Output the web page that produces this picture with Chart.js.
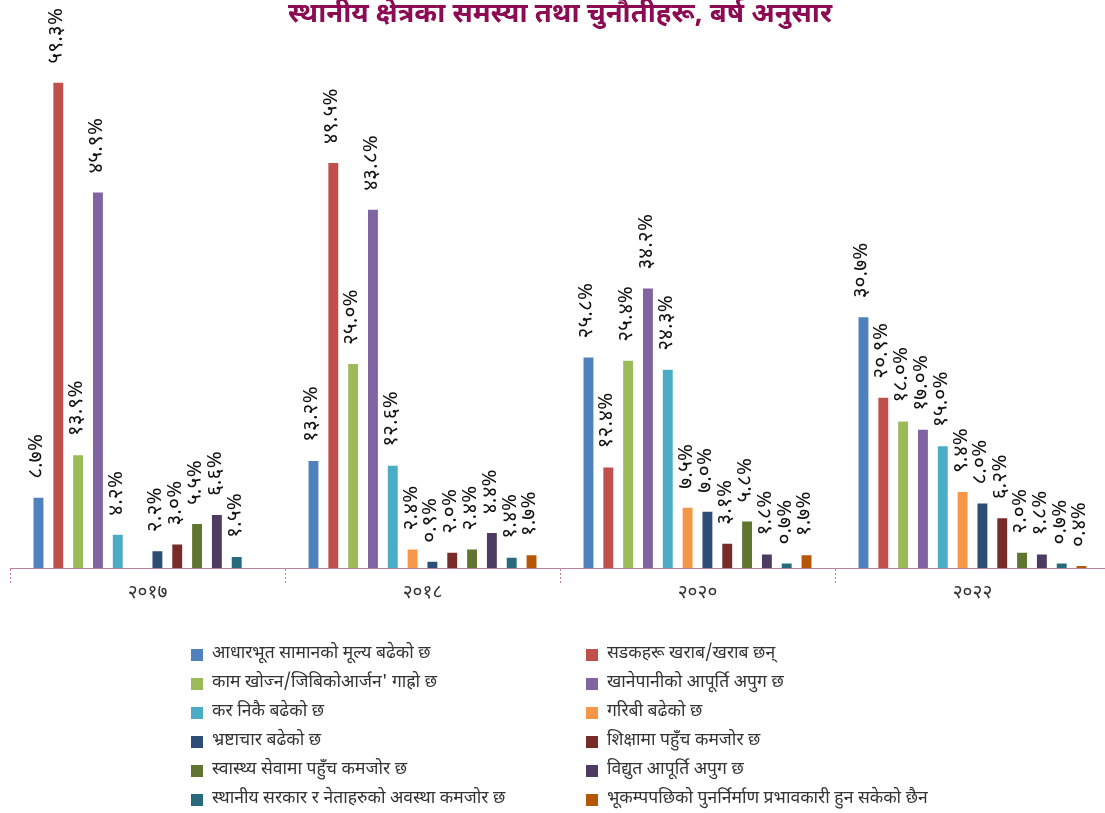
<!DOCTYPE html>
<html>
<head>
<meta charset="utf-8">
<script src="https://cdn.jsdelivr.net/npm/chart.js@4.4.1/dist/chart.umd.min.js"></script>
<style>
  html, body { margin: 0; padding: 0; background: #fff; overflow: hidden; }
  #wrap { width: 1105px; height: 813px; overflow: hidden; position: relative; }
</style>
</head>
<body>
<div id="wrap"><canvas id="myChart" width="1110" height="813"></canvas></div>
<script>
const years = ["२०१७", "२०१८", "२०२०", "२०२२"];

const problems = [
  "आधारभूत सामानको मूल्य बढेको छ",
  "सडकहरू खराब/खराब छन्",
  "काम खोज्न/जिबिकोआर्जन' गाह्रो छ",
  "खानेपानीको आपूर्ति अपुग छ",
  "कर निकै बढेको छ",
  "गरिबी बढेको छ",
  "भ्रष्टाचार बढेको छ",
  "शिक्षामा पहुँच कमजोर छ",
  "स्वास्थ्य सेवामा पहुँच कमजोर छ",
  "विद्युत आपूर्ति अपुग छ",
  "स्थानीय सरकार र नेताहरुको अवस्था कमजोर छ",
  "भूकम्पपछिको पुनर्निर्माण प्रभावकारी हुन सकेको छैन"
];

const colours = [
  "#4F81BD", "#C0504D", "#9BBB59", "#8064A2", "#4BACC6", "#F79646",
  "#2C4D75", "#772C2A", "#5F7530", "#4D3B62", "#276A7C", "#B65708"
];

// values per year: 2017, 2018, 2020, 2022
const basicGoods     = [8.7, 13.2, 25.8, 30.7];
const roads          = [59.3, 49.5, 12.4, 20.9];
const jobs           = [13.9, 25.0, 25.4, 18.0];
const water          = [45.9, 43.8, 34.2, 17.0];
const tax            = [4.2, 12.6, 24.3, 15.0];
const poverty        = [null, 2.4, 7.5, 9.4];
const corruption     = [2.2, 0.9, 7.0, 8.0];
const education      = [3.0, 2.0, 3.1, 6.2];
const health         = [5.5, 2.4, 5.8, 2.0];
const electricity    = [6.6, 4.4, 1.8, 1.8];
const localGov       = [1.5, 1.4, 0.7, 0.7];
const reconstruction = [null, 1.7, 1.7, 0.4];

const series = [basicGoods, roads, jobs, water, tax, poverty, corruption,
  education, health, electricity, localGov, reconstruction];

const devFont = '"Noto Sans Devanagari", "Noto Sans", sans-serif';

function toNepali(s) {
  const d = "०१२३४५६७८९";
  return String(s).replace(/[0-9]/g, c => d[c]);
}

// rotated value labels above each bar
const barLabels = {
  id: "barLabels",
  afterDatasetsDraw(chart) {
    const ctx = chart.ctx;
    ctx.save();
    ctx.font = "21px " + devFont;
    ctx.fillStyle = "#111";
    ctx.textAlign = "left";
    ctx.textBaseline = "middle";
    chart.data.datasets.forEach((ds, i) => {
      chart.getDatasetMeta(i).data.forEach((bar, j) => {
        const v = ds.data[j];
        if (v == null) return;
        ctx.save();
        ctx.translate(bar.x, bar.y - 18);
        ctx.rotate(-Math.PI / 2);
        ctx.fillText(toNepali(v.toFixed(1)) + "%", 0, 0);
        ctx.restore();
      });
    });
    ctx.restore();
  }
};

// two column legend under the axis
const twoColLegend = {
  id: "twoColLegend",
  afterDraw(chart) {
    const ctx = chart.ctx;
    ctx.save();
    ctx.font = "17.5px " + devFont;
    ctx.textBaseline = "middle";
    ctx.textAlign = "left";
    chart.data.datasets.forEach((ds, i) => {
      const col = i % 2;
      const row = Math.floor(i / 2);
      const x = col ? 586 : 191;
      const y = 655 + row * 29;
      ctx.fillStyle = ds.backgroundColor;
      ctx.fillRect(x, y - 6, 12, 12);
      ctx.fillStyle = "#333";
      ctx.fillText(ds.label, x + 21, y);
    });
    ctx.restore();
  }
};

const ctx = document.getElementById("myChart").getContext("2d");
const myChart = new Chart(ctx, {
  type: "bar",
  data: {
    labels: years,
    datasets: series.map((vals, i) => ({
      label: problems[i],
      data: vals,
      backgroundColor: colours[i],
      borderColor: "rgba(255,255,255,0.35)",
      borderWidth: 1,
      barPercentage: 0.6,
      categoryPercentage: 0.865
    }))
  },
  options: {
    responsive: false,
    animation: false,
    layout: { padding: { left: 10, right: 0, top: 0, bottom: 207 } },
    plugins: {
      legend: { display: false },
      tooltip: { enabled: false },
      title: {
        display: true,
        text: "स्थानीय क्षेत्रका समस्या तथा चुनौतीहरू, बर्ष अनुसार",
        color: "#8c0b52",
        font: { family: devFont, size: 27.5, weight: "bold" },
        padding: { top: 0, bottom: 6 }
      }
    },
    scales: {
      x: {
        grid: {
          drawOnChartArea: false,
          drawTicks: true,
          tickLength: 15,
          color: "#b9809f",
          tickBorderDash: [2, 2]
        },
        border: { display: true, color: "#b9809f", dash: [2, 2], width: 1 },
        ticks: {
          color: "#333",
          padding: 0,
          font: { family: devFont, size: 19 }
        }
      },
      y: {
        display: false,
        min: 0,
        max: 64.5
      }
    }
  },
  plugins: [barLabels, twoColLegend]
});
</script>
</body>
</html>
